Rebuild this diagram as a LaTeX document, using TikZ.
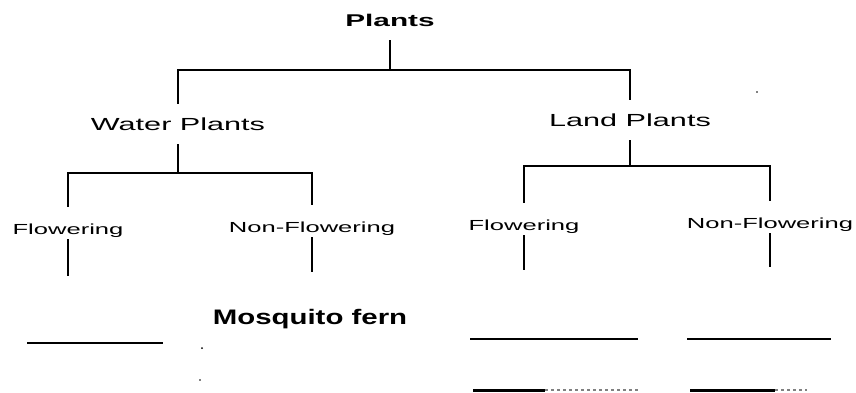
\documentclass[tikz,border=0pt]{standalone}
\usepackage{fontspec}
\newfontfamily\lblfont{Liberation Sans}[FakeStretch=1.75]
\newfontfamily\fernfont{Liberation Sans}[FakeStretch=1.4]
\usetikzlibrary{calc}

\begin{document}
\begin{tikzpicture}[x=1pt, y=-1pt,
      branch/.style = {inner sep=0pt, outer ysep=14pt, text depth=0pt,
                       font=\lblfont\fontsize{17.5}{20}\selectfont},
        leaf/.style = {inner sep=0pt, outer ysep=5pt, text depth=0pt,
                       font=\lblfont\fontsize{14.6}{17}\selectfont},
        link/.style = {draw, line width=1.5pt},
       blank/.style = {draw, line width=1.2pt}
                   ]
    \useasboundingbox (0,0) rectangle (856,392);

    % Label the levels of the tree
    \node (plants) at (390,20) [branch, font=\lblfont\bfseries\fontsize{17}{20}\selectfont] {Plants};
    \node (water) at (178,124) [branch] {Water Plants};
    \node (land) at (630,120) [branch] {Land Plants};
    \node (flw1) at (68,229) [leaf] {Flowering};
    \node (nfl1) at (312,227) [leaf] {Non-Flowering};
    \node (flw2) at (524,225) [leaf] {Flowering};
    \node (nfl2) at (770,223) [leaf] {Non-Flowering};
    \node (fern) at (310,319) [inner sep=0pt, font=\fernfont\bfseries\fontsize{21}{24}\selectfont] {Mosquito fern};

    % Junctions of the bars and free ends of the stubs
    \coordinate (j0) at (390,70);
    \coordinate (j1) at (178,173);
    \coordinate (j2) at (630,166);
    \coordinate (e1) at (68,276);
    \coordinate (e2) at (312,272);
    \coordinate (e3) at (524,270);
    \coordinate (e4) at (770,267);

    % Connect parents with their children
    \path[link] (plants.south) -- (j0);
    \path[link] (j0) -| (water.north);
    \path[link] (j0) -| (land.north);

    \path[link] (water.south) -- (j1);
    \path[link, shorten >=12pt] (j1) -| (flw1.north);
    \path[link, shorten >=12pt] (j1) -| (nfl1.north);

    \path[link] (land.south) -- (j2);
    \path[link, shorten >=12pt] (j2) -| (flw2.north);
    \path[link, shorten >=12pt] (j2) -| (nfl2.north);

    \path[link] (flw1.south) -- (e1);
    \path[link] (nfl1.south) -- (e2);
    \path[link] (flw2.south) -- (e3);
    \path[link] (nfl2.south) -- (e4);

    % Blanks to fill in
    \foreach \xa/\xb/\yy in {27/163/343, 470/638/339, 687/831/339}
        \draw[blank] (\xa,\yy) -- (\xb,\yy);
    \draw[line width=3pt] (473,390) -- (545,390);
    \draw[line width=1.5pt, dashed, gray] (545,390) -- (640,390);
    \draw[line width=3pt] (690,390) -- (775,390);
    \draw[line width=1.5pt, dashed, gray] (775,390) -- (807,390);

    % Specks of the scan
    \fill (202,348) circle (1pt);
    \fill (200,380) circle (0.8pt);
    \fill (757,92) circle (0.8pt);
\end{tikzpicture}
\end{document}
